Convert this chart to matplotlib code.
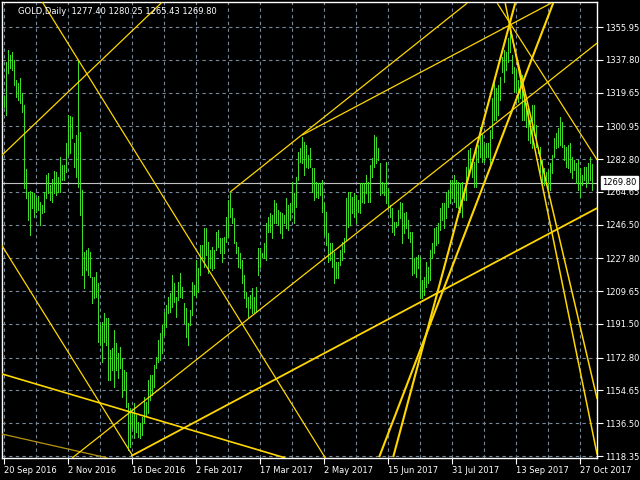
import matplotlib
matplotlib.use("Agg")
import matplotlib.pyplot as plt
import matplotlib.transforms as mtransforms

# ---------------- data ----------------
bar_high = [
    1317.7, 1336.7, 1343.2, 1340.4, 1341.9, 1337.7, 1326.6, 1324.7, 1327.5, 1319.2,
    1312.7, 1277.3, 1264.8, 1265.3, 1264.8, 1263.8, 1261.1, 1262.4, 1259.2, 1257.4,
    1264.8, 1274.0, 1274.9, 1268.5, 1271.8, 1276.4, 1275.8, 1273.1, 1284.1, 1279.5,
    1279.5, 1291.5, 1307.2, 1306.5, 1306.3, 1291.5, 1296.1, 1337.7, 1298.0, 1265.7,
    1231.5, 1232.5, 1233.4, 1231.5, 1217.7, 1217.7, 1220.4, 1214.0, 1190.9, 1192.8,
    1197.4, 1194.6, 1195.0, 1177.1, 1178.0, 1188.1, 1180.8, 1175.2, 1178.9, 1172.5,
    1166.0, 1165.1, 1147.5, 1144.8, 1142.9, 1147.5, 1141.1, 1137.4, 1136.5, 1140.2,
    1151.2, 1148.5, 1160.5, 1163.2, 1163.2, 1168.8, 1173.4, 1182.6, 1186.3, 1190.9,
    1198.3, 1202.0, 1206.6, 1208.4, 1218.6, 1214.0, 1206.6, 1214.9, 1219.5, 1212.1,
    1202.9, 1200.1, 1191.8, 1199.2, 1214.9, 1213.0, 1226.9, 1222.3, 1235.2, 1235.2,
    1244.5, 1244.5, 1237.1, 1232.5, 1234.3, 1232.5, 1242.6, 1243.5, 1238.9, 1238.9,
    1239.8, 1250.9, 1260.1, 1263.8, 1255.5, 1250.0, 1237.1, 1234.3, 1230.6, 1226.9,
    1218.6, 1209.4, 1206.6, 1207.5, 1211.2, 1206.6, 1212.1, 1233.4, 1233.4, 1230.6,
    1236.1, 1247.2, 1250.9, 1252.8, 1251.8, 1260.1, 1258.3, 1254.6, 1253.7, 1252.8,
    1251.8, 1261.1, 1257.4, 1258.3, 1270.3, 1263.8, 1273.1, 1286.9, 1288.8, 1295.2,
    1292.4, 1290.6, 1285.1, 1288.8, 1277.7, 1277.7, 1270.3, 1269.4, 1269.4, 1271.2,
    1258.3, 1253.7, 1241.7, 1236.1, 1236.1, 1231.5, 1226.0, 1226.0, 1232.5, 1237.1,
    1238.9, 1261.1, 1264.8, 1264.8, 1262.0, 1263.8, 1262.9, 1260.1, 1269.4, 1269.4,
    1269.4, 1274.0, 1270.3, 1279.5, 1283.2, 1296.1, 1295.2, 1288.8, 1280.5, 1270.3,
    1269.4, 1281.4, 1266.6, 1257.4, 1255.5, 1248.1, 1248.1, 1254.6, 1259.2, 1258.3,
    1252.8, 1253.7, 1249.1, 1242.6, 1242.6, 1227.8, 1228.8, 1229.7, 1228.8, 1215.8,
    1217.7, 1226.0, 1223.2, 1232.5, 1236.1, 1244.5, 1245.4, 1247.2, 1255.5, 1258.3,
    1258.3, 1264.8, 1265.7, 1271.2, 1271.2, 1274.0, 1271.2, 1270.3, 1269.4, 1270.3,
    1264.8, 1278.6, 1287.8, 1288.8, 1282.3, 1281.4, 1287.8, 1290.6, 1300.7, 1297.0,
    1290.6, 1291.5, 1291.5, 1298.9, 1316.4, 1328.4, 1322.0, 1323.8, 1328.4, 1339.5,
    1343.2, 1342.3, 1349.7, 1356.1, 1340.4, 1334.0, 1332.1, 1326.6, 1332.1, 1329.4,
    1319.2, 1313.7, 1310.9, 1304.4, 1312.7, 1312.7, 1301.7, 1289.7, 1289.7, 1282.3,
    1277.7, 1275.8, 1276.7, 1280.5, 1285.1, 1294.3, 1297.0, 1299.8, 1306.3, 1303.5,
    1290.6, 1289.7, 1290.6, 1291.5, 1284.1, 1282.3, 1280.5, 1282.3, 1277.7, 1274.0,
    1278.6, 1278.6, 1280.5, 1284.1, 1280.25,
]
bar_low = [
    1311.5, 1307.2, 1330.3, 1333.1, 1332.1, 1323.8, 1317.4, 1315.5, 1313.7, 1309.1,
    1266.6, 1261.1, 1249.1, 1240.8, 1255.5, 1250.9, 1253.7, 1254.6, 1246.3, 1252.8,
    1253.7, 1261.1, 1263.8, 1260.1, 1259.2, 1263.8, 1262.9, 1264.8, 1264.8, 1271.2,
    1271.2, 1275.8, 1285.1, 1286.0, 1294.3, 1278.6, 1273.1, 1267.5, 1251.8, 1218.6,
    1211.2, 1221.4, 1218.6, 1217.7, 1202.9, 1205.7, 1206.6, 1181.7, 1179.8, 1170.6,
    1181.7, 1179.8, 1160.5, 1160.5, 1166.0, 1156.8, 1166.0, 1161.4, 1166.9, 1151.2,
    1154.9, 1145.7, 1121.7, 1123.5, 1133.7, 1128.2, 1131.8, 1129.1, 1128.2, 1130.0,
    1136.5, 1141.1, 1142.0, 1149.4, 1152.2, 1156.8, 1166.9, 1170.6, 1171.5, 1175.2,
    1185.4, 1190.0, 1197.4, 1198.3, 1201.1, 1203.8, 1195.5, 1204.7, 1206.6, 1205.7,
    1191.8, 1184.5, 1179.8, 1190.9, 1196.5, 1207.5, 1206.6, 1209.4, 1218.6, 1227.8,
    1223.2, 1229.7, 1219.5, 1222.3, 1221.4, 1222.3, 1232.5, 1234.3, 1230.6, 1226.0,
    1230.6, 1237.1, 1239.8, 1250.9, 1247.2, 1236.1, 1230.6, 1223.2, 1222.3, 1214.0,
    1205.7, 1201.1, 1194.6, 1200.1, 1197.4, 1198.3, 1198.3, 1218.6, 1223.2, 1228.8,
    1227.8, 1226.9, 1242.6, 1242.6, 1238.9, 1247.2, 1247.2, 1246.3, 1241.7, 1238.9,
    1247.2, 1244.5, 1243.5, 1249.1, 1253.7, 1247.2, 1256.5, 1271.2, 1281.4, 1280.5,
    1274.0, 1278.6, 1277.7, 1278.6, 1264.8, 1260.1, 1262.0, 1261.1, 1262.9, 1253.7,
    1240.8, 1235.2, 1226.0, 1226.9, 1223.2, 1214.0, 1216.7, 1216.7, 1224.1, 1226.9,
    1231.5, 1238.0, 1245.4, 1246.3, 1252.8, 1250.9, 1247.2, 1253.7, 1252.8, 1259.2,
    1258.3, 1263.8, 1259.2, 1259.2, 1273.1, 1278.6, 1280.5, 1282.3, 1262.9, 1263.8,
    1262.9, 1258.3, 1256.5, 1250.9, 1242.6, 1240.8, 1245.4, 1246.3, 1250.0, 1236.1,
    1241.7, 1244.5, 1238.9, 1237.1, 1218.6, 1219.5, 1217.7, 1222.3, 1205.7, 1205.7,
    1207.5, 1212.1, 1214.0, 1215.8, 1227.8, 1230.6, 1235.2, 1236.1, 1243.5, 1249.1,
    1244.5, 1250.0, 1256.5, 1258.3, 1261.1, 1259.2, 1256.5, 1255.5, 1253.7, 1250.9,
    1260.1, 1260.1, 1274.0, 1278.6, 1273.1, 1267.5, 1267.5, 1281.4, 1284.1, 1281.4,
    1281.4, 1284.1, 1284.1, 1277.7, 1294.3, 1304.4, 1304.4, 1307.2, 1315.5, 1331.2,
    1325.7, 1332.1, 1336.7, 1342.3, 1330.3, 1320.1, 1320.1, 1314.6, 1316.4, 1304.4,
    1304.4, 1300.7, 1293.4, 1291.5, 1288.8, 1296.1, 1289.7, 1286.0, 1275.8, 1268.5,
    1268.5, 1271.2, 1264.8, 1265.7, 1274.9, 1284.1, 1288.8, 1289.7, 1290.6, 1289.7,
    1282.3, 1278.6, 1277.7, 1275.8, 1272.1, 1276.7, 1269.4, 1265.7, 1262.0, 1268.5,
    1271.2, 1267.5, 1269.4, 1271.2, 1265.43,
]

last_ohlc = [1277.40, 1280.25, 1265.43, 1269.80]
bid_price = 1269.80

y_ticks = [1355.95, 1337.80, 1319.65, 1300.95, 1282.80, 1264.65, 1246.50,
           1227.80, 1209.65, 1191.50, 1172.80, 1154.65, 1136.50, 1118.35]
x_tick_bars = [0, 32, 64, 96, 128, 160, 192, 224, 256, 288]
x_tick_labels = ["20 Sep 2016", "2 Nov 2016", "16 Dec 2016", "2 Feb 2017",
                 "17 Mar 2017", "2 May 2017", "15 Jun 2017", "31 Jul 2017",
                 "13 Sep 2017", "27 Oct 2017"]
x_grid_minor = [16, 48, 80, 112, 144, 176, 208, 240, 272]

# trendlines: (bar1, price1) -> (bar2, price2)
trend_bar1 = [19.4, -1.0, -1.0, -1.0, -1.0, 34.35, 113.35, 149.35, 63.85, 194.85, 187.85, 250.85, 252.85, 246.85]
trend_p1 = [1369.8, 1284.7, 1235.3, 1163.9, 1130.6, 1117.3, 1264.6, 1296.1, 1118.35, 1117.8, 1117.8, 1369.2, 1357.1, 1369.2]
trend_bar2 = [160.9, 79.4, 64.35, 140.9, 51.9, 296.85, 231.85, 273.85, 296.85, 255.85, 274.85, 296.85, 296.85, 296.85]
trend_p2 = [1117.3, 1369.8, 1118.9, 1117.3, 1117.3, 1347.1, 1369.2, 1369.2, 1255.7, 1369.2, 1369.2, 1119.0, 1149.9, 1282.3]
trend_color = ['#FFD700'] * 4 + ['#B8960A'] + ['#FFD700'] * 9
trend_width = [0.9, 0.9, 0.9, 1.2, 0.9, 0.9, 0.9, 0.9, 1.3, 1.5, 1.5, 1.1, 1.1, 0.9]

# ---------------- figure ----------------
W, H = 640, 480
fig = plt.figure(figsize=(6.4, 4.8), dpi=100, facecolor='black')
ax = fig.add_axes([2 / W, 22 / H, 595 / W, 456 / H])
ax.set_facecolor('black')

# grid / ticks
ax.set_yticks(y_ticks)
ax.set_yticklabels([f"{v:.2f}" for v in y_ticks])
ax.set_xticks(x_tick_bars)
ax.set_xticklabels(x_tick_labels)
ax.set_xticks(x_grid_minor, minor=True)
ax.grid(True, which='both', color='#778899', linestyle=(0, (3, 3)), linewidth=0.8)
ax.set_axisbelow(True)

ax.set_xlim(-0.75, 296.75)
ax.set_ylim(1117.26, 1369.8)

ax.yaxis.tick_right()
ax.tick_params(axis='y', which='major', direction='out', length=4, width=0.8,
               color='white', labelcolor='white', labelsize=6, pad=2)
ax.tick_params(axis='x', which='major', direction='out', length=4, width=0.8,
               color='white', labelcolor='white', labelsize=6, pad=1.5)
ax.tick_params(axis='x', which='minor', length=0)
for lab in ax.get_xticklabels():
    lab.set_horizontalalignment('left')

for sp in ax.spines.values():
    sp.set_color('white')
    sp.set_linewidth(1.0)

# bid line
ax.axhline(bid_price, color='#C0C0C0', lw=0.8, zorder=2)

# bars
idx = list(range(len(bar_high)))
ax.vlines(idx, bar_low, bar_high, colors='#3CDC28', linewidth=0.72,
          antialiased=False, zorder=3)

# trendlines
for b1, p1, b2, p2, c, w in zip(trend_bar1, trend_p1, trend_bar2, trend_p2,
                                trend_color, trend_width):
    ax.plot([b1, b2], [p1, p2], color=c, lw=w, zorder=4, solid_capstyle='butt')

# bid label
trans = mtransforms.blended_transform_factory(ax.transAxes, ax.transData)
ax.text(1.009, bid_price, f"{bid_price:.2f}", transform=trans, ha='left',
        va='center', color='black', fontsize=6, clip_on=False, zorder=6,
        bbox=dict(facecolor='white', edgecolor='white',
                  boxstyle='square,pad=0.2'))

# title
title = "GOLD,Daily  " + " ".join(f"{v:.2f}" for v in last_ohlc)
fig.text(18 / W, 1 - 11 / H, title, color='white', fontsize=6,
         ha='left', va='center')

fig.savefig("out.png", dpi=100, facecolor='black')
